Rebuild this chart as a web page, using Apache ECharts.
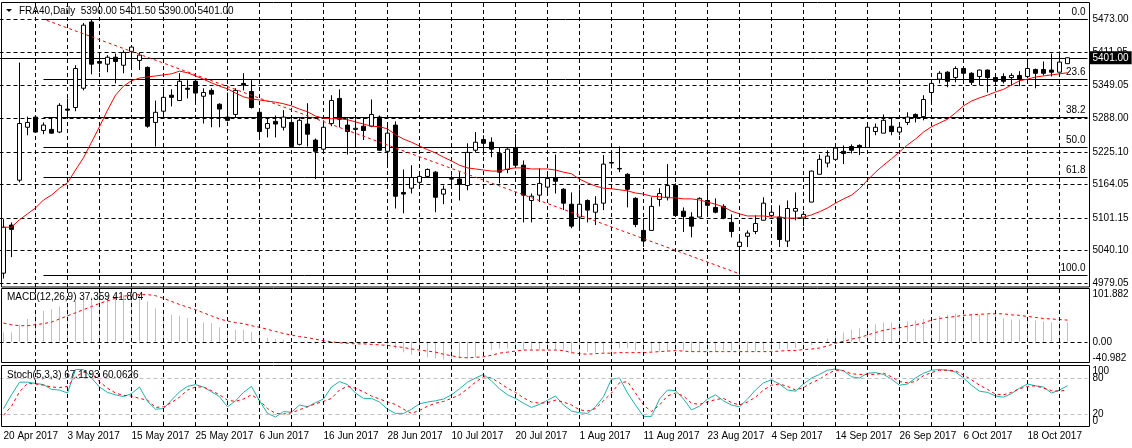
<!DOCTYPE html>
<html><head><meta charset="utf-8">
<script src="https://cdn.jsdelivr.net/npm/echarts@6/dist/echarts.min.js"></script>
<style>html,body{margin:0;padding:0;background:#fff}#c{width:1132px;height:448px}</style>
</head><body><div id="c"></div>
<script>
// ---------- DATA ----------
const tradingDays = {
  Apr: [20,21,24,25,26,27,28],
  May: [2,3,4,5,8,9,10,11,12,15,16,17,18,19,22,23,24,25,26,29,30,31],
  Jun: [1,2,5,6,7,8,9,12,13,14,15,16,19,20,21,22,23,26,27,28,29,30],
  Jul: [3,4,5,6,7,10,11,12,13,14,17,18,19,20,21,24,25,26,27,28,31],
  Aug: [1,2,3,4,7,8,9,10,11,14,15,16,17,18,21,22,23,24,25,28,29,30,31],
  Sep: [1,4,5,6,7,8,11,12,13,14,15,18,19,20,21,22,25,26,27,28,29],
  Oct: [2,3,4,5,6,9,10,11,12,13,16,17,18,19,20,23,24,25]
};
const open = [4998,5088,5172,5271,5290,5265,5267,5262,5305,5308,
5344,5468,5394,5389,5402,5387,5413,5396,5383,5280,
5301,5331,5321,5344,5357,5329,5340,5314,5290,5295,
5353,5338,5299,5269,5282,5271,5280,5239,5277,5247,
5230,5278,5325,5275,5267,5273,5273,5290,5226,5275,
5149,5157,5168,5179,5187,5146,5174,5174,5162,5228,
5248,5243,5222,5192,5233,5200,5134,5144,5159,5177,
5155,5127,5103,5134,5112,5129,5205,5194,5183,5138,
5078,5078,5136,5140,5162,5114,5103,5103,5134,5121,
5123,5093,5048,5067,5076,5097,5106,5103,5058,5114,
5101,5131,5183,5204,5211,5226,5235,5237,5233,5263,
5260,5273,5262,5280,5295,5291,5336,5361,5374,5364,
5381,5372,5366,5378,5364,5366,5364,5368,5366,5379,
5379,5378,5374,5390];
const high = [5099,5093,5392,5291,5293,5280,5288,5316,5325,5387,
5466,5473,5411,5406,5409,5415,5424,5411,5385,5321,
5340,5342,5372,5359,5361,5344,5344,5316,5336,5344,
5372,5359,5301,5290,5293,5303,5286,5288,5316,5250,
5284,5331,5342,5288,5286,5288,5323,5293,5280,5282,
5192,5200,5187,5194,5189,5162,5181,5187,5241,5262,
5256,5252,5234,5232,5258,5209,5147,5194,5187,5220,
5157,5149,5155,5136,5142,5219,5224,5235,5185,5140,
5101,5140,5157,5202,5166,5121,5112,5140,5155,5138,
5127,5108,5065,5078,5106,5140,5125,5125,5134,5149,
5114,5190,5220,5228,5237,5237,5239,5239,5278,5278,
5295,5288,5278,5299,5297,5331,5359,5376,5376,5385,
5385,5374,5379,5379,5368,5372,5372,5376,5394,5381,
5394,5409,5413,5401.5];
const low = [4988,5028,5168,5256,5261,5258,5259,5260,5288,5301,
5340,5370,5374,5374,5353,5372,5378,5378,5270,5235,
5290,5310,5320,5325,5318,5278,5271,5271,5282,5290,
5340,5306,5254,5252,5252,5265,5232,5237,5235,5174,
5228,5273,5271,5220,5235,5247,5271,5227,5198,5119,
5110,5147,5164,5177,5112,5127,5159,5134,5153,5224,
5219,5215,5166,5185,5196,5093,5093,5131,5149,5147,
5116,5082,5084,5093,5088,5116,5194,5187,5121,5084,
5047,5078,5123,5134,5106,5075,5065,5102,5104,5110,
5099,5065,4995,5047,5071,5097,5103,5047,5047,5097,
5086,5131,5183,5196,5211,5202,5222,5219,5233,5256,
5260,5256,5256,5275,5280,5284,5320,5353,5346,5355,
5353,5350,5350,5336,5348,5353,5350,5348,5363,5344,
5368,5366,5374,5390];
const close = [5084,5080,5278,5280,5262,5275,5260,5312,5303,5381,
5462,5389,5391,5402,5394,5411,5421,5406,5273,5299,
5327,5327,5357,5342,5335,5336,5333,5305,5284,5340,
5350,5308,5263,5278,5277,5290,5235,5284,5258,5226,
5271,5321,5286,5263,5269,5265,5295,5228,5260,5142,
5146,5177,5179,5192,5140,5155,5175,5164,5224,5243,
5241,5230,5187,5230,5200,5144,5142,5166,5175,5170,
5129,5086,5127,5116,5127,5202,5204,5193,5155,5089,
5058,5123,5147,5162,5106,5104,5086,5138,5125,5112,
5101,5076,5056,5073,5091,5129,5112,5061,5119,5119,
5108,5189,5211,5217,5232,5222,5228,5233,5271,5271,
5284,5263,5271,5290,5290,5323,5353,5372,5357,5381,
5372,5355,5378,5364,5357,5357,5368,5361,5381,5372,
5372,5374,5393,5401];
const movingAverage = [5084,5084,5098,5109,5120,5135,5144,5157,5167,5191,
5214,5243,5272,5303,5331,5348,5358,5363,5365,5367,
5369,5371,5376,5373,5367,5361,5354,5348,5343,5335,
5328,5324,5322,5320,5318,5315,5311,5305,5300,5292,
5288,5287,5287,5285,5281,5277,5273,5272,5268,5257,
5249,5243,5236,5229,5223,5215,5208,5200,5195,5193,
5191,5189,5189,5193,5195,5195,5193,5193,5193,5191,
5187,5184,5174,5167,5161,5157,5156,5154,5152,5148,
5146,5142,5141,5139,5139,5137,5137,5135,5131,5127,
5122,5114,5109,5105,5105,5105,5103,5103,5101,5101,
5103,5107,5113,5120,5129,5137,5144,5156,5172,5187,
5200,5212,5225,5238,5249,5262,5272,5279,5286,5298,
5311,5320,5326,5331,5337,5342,5350,5358,5361,5365,
5367,5369,5371,5373];
const priceTicks = [5473.00, 5411.95, 5349.05, 5288.00, 5225.10, 5164.05, 5101.15, 5040.10, 4979.05];
const fibHigh = 5473, fibLow = 4995, fibStartBar = 5;
const fibLevels = [0.0, 23.6, 38.2, 50.0, 61.8, 100.0];
const trendLine = [[5.4, 5471], [91.8, 4998]];

const macdMain = [18,18,33,44,55,60,63,68,73,78,
83,86,89,90,91,90,88,87,78,64,
55,52,50,46,39,37,36,28,23,23,
23,19,19,8,6,4,1,0.5,0.3,-5,
-3,-1,-1,-2,-2,-3,-2,-4,-6,-13,
-20,-25,-24,-30,-32,-34,-33,-32,-32,-30,
-26,-16,-13,-13,-14,-15,-16,-17,-16,-16,
-15,-23,-25,-19,-21,-21,-19,-12,-12,-17,
-19,-19,-19,-19,-19,-17,-19,-19,-19,-19,
-17,-17,-19,-19,-19,-17,-17,-14,-14,-12,
-9,-6,-1,7,13,18,23,26,30,34,
37,37,38,39,41,44,47,50,52,54,
54,54,52,52,52,45,43,43,42.5,41,
39,37.5,37.5,37.359];
const macdSignal = [36,33,31,31,33,35,38,44,50,56,
62,68,74,79,84,88,90,91,91,89,
84,78,72,67,62,56,50,44,40,37,
35,31,28,24,20,16,13,10,8,5,
2,0,-2,-3,-4,-4,-5,-6,-7,-9,
-11,-14,-16,-18,-20,-24,-27,-30,-31,-30,
-29,-26,-22,-20,-18,-16,-16,-16,-16,-16,
-17,-21,-23,-24,-23,-22,-22,-21,-21,-21,
-21,-20,-19,-18,-17,-18,-19,-19,-19,-19,
-19,-19,-19,-19,-19,-19,-19,-18,-17,-17,
-15,-14,-12,-8,-3,1,5,8,13,18,
22,25,27,30,33,36,42,45,47,49,
51,52,53,54,54,54,52,51,49,47,
45,44,43,41.804];
const macdRange = [-40.982, 101.882];

const stochK = [29,52,73,73,71,69,61,60,55,94,
94,80,65,56,52,49,54,65,41,28,
29,43,57,66,69,65,57,49,32,42,
56,66,42,21,15,24,23,35,32,39,
45,65,74,69,55,46,46,40,28,21,
21,28,37,40,42,45,52,62,73,80,
86,75,62,52,46,38,31,36,43,50,
35,25,22,21,32,49,78,80,55,35,
16,16,45,60,59,45,27,33,45,52,
42,35,32,45,60,72,77,70,60,58,
70,80,86,93,95,92,82,80,88,89,
86,78,68,70,80,88,93,94,93,90,
80,68,58,56,50,48,54,63,70,67,
65,55,60,67.1193];
const stochD = [18,33,57,71,70,68,65,64,66,82,
90,87,74,63,55,51,50,46,43,31,
32,39,48,60,65,65,59,52,43,41,
45,52,43,29,21,20,22,27,32,37,
41,46,60,66,63,57,50,45,40,36,
28,21,26,33,38,41,46,52,62,73,
82,80,72,63,56,47,40,38,39,43,
40,35,27,25,29,42,55,72,74,55,
35,24,35,50,55,50,38,36,40,44,
46,39,35,40,48,60,68,70,66,60,
64,72,78,87,93,92,87,86,86,86,
88,82,74,72,74,84,89,93,93,92,
85,77,68,61,53,52,56,62,66,67,
63,59,58,60.0626];
const stochRange = [0, 100];
const stochLevels = [80, 20];

// ---------- BUILD ----------
const FONT = 'Liberation Sans';
const dates = [];
Object.keys(tradingDays).forEach(m => tradingDays[m].forEach(d => dates.push(d + ' ' + m + ' 2017')));
const SHIFT = 2; // empty chart-shift slots on the right
const cats = dates.concat(new Array(SHIFT).fill(''));
const N = cats.length;
const last = dates.length - 1;

const candles = dates.map((_, i) => [open[i], close[i], low[i], high[i]]);

const dash = [4, 3];
const vGrid = [];
for (let i = 4; i < N; i += 4) vGrid.push({ xAxis: i });
const blackDash = { color: '#000', width: 1, type: dash };

const fibLines = fibLevels.map(lv => {
  const p = fibHigh - (fibHigh - fibLow) * lv / 100;
  return [
    { coord: [fibStartBar, p], lineStyle: { color: '#000', width: 1, type: 'solid' },
      label: { show: true, position: 'insideEndTop', distance: 2, formatter: lv.toFixed(1),
               color: '#000', fontSize: 10, fontFamily: FONT } },
    { coord: [N - 0.5, p] }
  ];
});

const mainTop = 2, mainH = 285, k = 264 / (priceTicks[0] - priceTicks[priceTicks.length - 1]);
const y0 = 19.3; // layout: pixel row of the top tick inside the page
const priceMax = priceTicks[0] + (y0 - mainTop) / k;
const priceMin = priceMax - mainH / k;

const hidden = { axisLine: { show: false }, axisTick: { show: false }, splitLine: { show: false } };
function rightAxis(grid, range, values, fmt, vAlign) {
  return { type: 'value', gridIndex: grid, position: 'right', min: range[0], max: range[1], ...hidden,
    axisLabel: { color: '#000', fontSize: 10, fontFamily: FONT, margin: 5, customValues: values,
      formatter: fmt, verticalAlign: vAlign, showMinLabel: true, showMaxLabel: true } };
}

const option = {
  animation: false,
  backgroundColor: '#fff',
  textStyle: { fontFamily: FONT },
  title: [
    { text: 'FRA40,Daily  ' + [open[last], high[last], low[last], close[last]].map(v => v.toFixed(2)).join(' '),
      left: 19, top: 6, padding: 0, textStyle: { fontSize: 10, fontWeight: 'normal', color: '#000', fontFamily: FONT } },
    { text: 'MACD(12,26,9) ' + macdMain[last].toFixed(3) + ' ' + macdSignal[last].toFixed(3),
      left: 7, top: 292, padding: 0, textStyle: { fontSize: 10, fontWeight: 'normal', color: '#000', fontFamily: FONT } },
    { text: 'Stoch(5,3,3) ' + stochK[last].toFixed(4) + ' ' + stochD[last].toFixed(4),
      left: 7, top: 370, padding: 0, textStyle: { fontSize: 10, fontWeight: 'normal', color: '#000', fontFamily: FONT } }
  ],
  graphic: [
    { type: 'polygon', shape: { points: [[6, 9], [12, 9], [9, 12]] }, style: { fill: '#000' }, z: 10 },
    { type: 'rect', shape: { x: 1.5, y: 2.5, width: 1088, height: 284.5 }, style: { fill: null, stroke: '#000', lineWidth: 1 }, z: 10, silent: true },
    { type: 'rect', shape: { x: 1.5, y: 288.5, width: 1088, height: 74 }, style: { fill: null, stroke: '#000', lineWidth: 1 }, z: 10, silent: true },
    { type: 'rect', shape: { x: 1.5, y: 365.5, width: 1088, height: 61 }, style: { fill: null, stroke: '#000', lineWidth: 1 }, z: 10, silent: true }
  ],
  grid: [
    { left: -0.5, width: 1088, top: mainTop, height: mainH, outerBoundsMode: 'none' },
    { left: -0.5, width: 1088, top: 289, height: 74, outerBoundsMode: 'none' },
    { left: -0.5, width: 1088, top: 366, height: 60, outerBoundsMode: 'none' }
  ],
  xAxis: [
    { type: 'category', gridIndex: 0, data: cats, show: false },
    { type: 'value', gridIndex: 0, min: -0.5, max: N - 0.5, show: false },
    { type: 'category', gridIndex: 1, data: cats, show: false },
    { type: 'category', gridIndex: 2, data: cats, ...hidden,
      axisLabel: { color: '#000', fontSize: 10, fontFamily: FONT, align: 'left', margin: 5, interval: (i) => i % 8 === 0 && i <= last } }
  ],
  yAxis: [
    rightAxis(0, [priceMin, priceMax], priceTicks, v => v.toFixed(2), 'middle'),
    rightAxis(1, macdRange, [0], v => v.toFixed(2), 'middle'),
    rightAxis(1, macdRange, [macdRange[1]], v => v.toFixed(3), 'top'),
    rightAxis(1, macdRange, [macdRange[0]], v => v.toFixed(3), 'bottom'),
    rightAxis(2, stochRange, stochLevels, v => String(v), 'middle'),
    rightAxis(2, stochRange, [stochRange[1]], v => String(v), 'top'),
    rightAxis(2, stochRange, [stochRange[0]], v => String(v), 'bottom')
  ],
  series: [
    { type: 'candlestick', xAxisIndex: 0, yAxisIndex: 0, data: candles, barWidth: 5, z: 4,
      itemStyle: { color: '#fff', color0: '#000', borderColor: '#000', borderColor0: '#000', borderWidth: 1 },
      markLine: { silent: true, symbol: 'none', animation: false, z: 1,
        label: { show: false },
        data: [
          ...priceTicks.map(v => ({ yAxis: v, lineStyle: blackDash })),
          ...vGrid.map(d => ({ ...d, lineStyle: blackDash })),
          { yAxis: close[last], lineStyle: { color: '#000', width: 1, type: 'solid' },
            label: { show: true, position: 'end', distance: 2, formatter: close[last].toFixed(2),
              color: '#fff', backgroundColor: '#000', padding: [2, 3, 1, 3], fontSize: 10, fontFamily: FONT } }
        ] } },
    { type: 'line', xAxisIndex: 0, yAxisIndex: 0, data: movingAverage, symbol: 'none', z: 5,
      lineStyle: { color: '#ff0000', width: 1 } },
    { type: 'line', xAxisIndex: 1, yAxisIndex: 0, data: trendLine, symbol: 'none', z: 5,
      lineStyle: { color: '#ff0000', width: 1, type: [3, 3] },
      markLine: { silent: true, symbol: 'none', animation: false, z: 3, data: fibLines } },
    { type: 'bar', xAxisIndex: 2, yAxisIndex: 1, data: macdMain, barWidth: 1, z: 3,
      itemStyle: { color: '#c0c0c0' },
      markLine: { silent: true, symbol: 'none', animation: false, label: { show: false },
        data: [ { yAxis: 0, lineStyle: blackDash }, ...vGrid.map(d => ({ ...d, lineStyle: blackDash })) ] } },
    { type: 'line', xAxisIndex: 2, yAxisIndex: 1, data: macdSignal, symbol: 'none', z: 4,
      lineStyle: { color: '#ff0000', width: 1, type: [3, 3] } },
    { type: 'line', xAxisIndex: 3, yAxisIndex: 4, data: stochK, symbol: 'none', z: 4,
      lineStyle: { color: '#20b2aa', width: 1 },
      markLine: { silent: true, symbol: 'none', animation: false, label: { show: false },
        data: [ ...stochLevels.map(v => ({ yAxis: v, lineStyle: { color: '#c0c0c0', width: 1, type: dash } })),
                ...vGrid.map(d => ({ ...d, lineStyle: blackDash })) ] } },
    { type: 'line', xAxisIndex: 3, yAxisIndex: 4, data: stochD, symbol: 'none', z: 4,
      lineStyle: { color: '#ff0000', width: 1, type: [3, 3] } }
  ]
};
const chart = echarts.init(document.getElementById('c'), null, { renderer: 'canvas' });
chart.setOption(option);
</script>
</body></html>
